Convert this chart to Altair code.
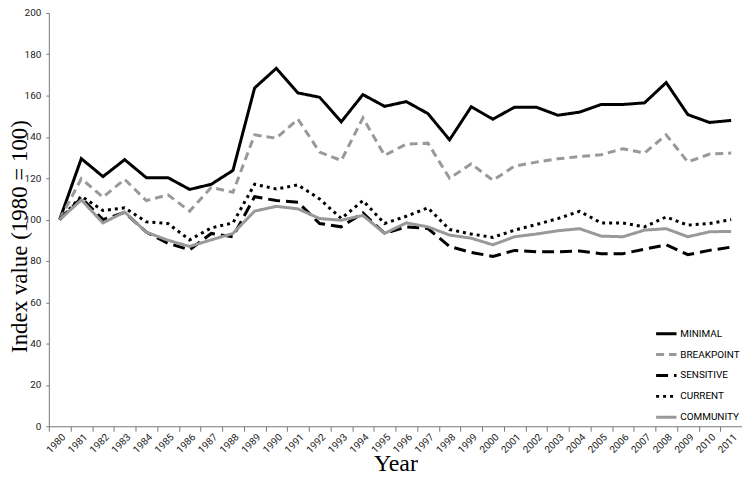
import altair as alt
import pandas as pd

years = list(range(1980, 2012))

series_names = ["MINIMAL", "BREAKPOINT", "SENSITIVE", "CURRENT", "COMMUNITY"]

minimal = [100, 129.5, 120.8, 129, 120.3, 120.3, 114.6, 117.1, 123.8, 163.7,
           173.2, 161.3, 159.2, 147.3, 160.5, 154.8, 157.1, 151.3, 138.6, 154.6,
           148.6, 154.4, 154.4, 150.5, 152, 155.7, 155.7, 156.5, 166.3, 150.8,
           147, 148]
breakpoint_ = [100, 119.8, 110.8, 119.5, 109.2, 112, 104.1, 115.6, 113.2, 141,
               139.4, 148.6, 132.7, 128.6, 149.2, 131.1, 136.5, 137, 120, 127,
               119, 125.9, 127.8, 129.4, 130.5, 131.4, 134.3, 132.2, 141, 127.9,
               131.7, 132.2]
sensitive = [100, 110.5, 100, 103.5, 94, 88.5, 85.4, 93.3, 91.7, 111.1,
             109.2, 108.4, 98.1, 96.5, 103.2, 93.3, 96.5, 95.7, 87, 84.1,
             82.2, 85.1, 84.4, 84.4, 84.8, 83.5, 83.5, 85.7, 87.8, 83,
             85.1, 86.7]
current = [100, 111.3, 104.4, 105.7, 98.9, 98.1, 90.2, 96, 98.4, 117.1,
           114.8, 116.8, 110, 100.5, 109.2, 98.1, 101.6, 105.7, 95.2, 93,
           91.4, 94.9, 97.6, 100.5, 104, 98.4, 98.4, 96.5, 101.3, 97.3,
           98.1, 100]
community = [100, 109.5, 98.4, 103.7, 93.9, 90, 87, 90.2, 93.3, 104.1,
             106.4, 105.2, 100.5, 99.7, 102, 93.3, 98.4, 96.5, 92.5, 91,
             87.8, 91.7, 93, 94.6, 95.6, 92, 91.7, 94.9, 95.6, 91.7,
             94.1, 94.3]

series_values = [minimal, breakpoint_, sensitive, current, community]
y_ticks = list(range(0, 201, 20))

rows = []
for name, vals in zip(series_names, series_values):
    for yr, v in zip(years, vals):
        rows.append({"Year": str(yr), "Value": v, "Series": name})
df = pd.DataFrame(rows)

colors = ["#000000", "#999999", "#000000", "#000000", "#999999"]
dashes = [[1, 0], [8, 5], [12, 6], [3, 4], [1, 0]]

label_font = "Liberation Sans Narrow, Roboto, sans-serif"
title_font = "Liberation Serif"

legend = alt.Legend(
    title=None, orient="none", legendX=608, legendY=310,
    symbolType="stroke", symbolSize=420, symbolStrokeWidth=3,
    labelFont=label_font, labelFontSize=10, labelColor="#000000",
    labelOffset=2, rowPadding=3, padding=0,
)

chart = alt.Chart(df).mark_line(strokeWidth=3, strokeCap="butt").encode(
    x=alt.X("Year:O", bandPosition=0.5,
            scale=alt.Scale(type="band", paddingInner=0, paddingOuter=0),
            axis=alt.Axis(title="Year", tickBand="extent", labelAngle=-45,
                          labelAlign="right", labelBaseline="middle",
                          labelOffset=4, labelPadding=4, tickSize=5,
                          labelFont=label_font, labelFontSize=10, labelColor="#222222",
                          domainColor="#777", tickColor="#777",
                          titleFont=title_font, titleFontSize=24,
                          titleFontWeight="normal", titleColor="#000",
                          titleBaseline="alphabetic", titleY=44)),
    y=alt.Y("Value:Q",
            scale=alt.Scale(domain=[0, 200], nice=False, zero=True),
            axis=alt.Axis(title="Index value (1980 = 100)", values=y_ticks,
                          grid=False, tickSize=3, labelPadding=5,
                          labelFont=label_font, labelFontSize=10, labelColor="#222222",
                          domainColor="#777", tickColor="#777",
                          titleFont=title_font, titleFontSize=23,
                          titleFontWeight="normal", titleColor="#000",
                          titleAngle=-90, titleBaseline="top",
                          titleAlign="center", titleX=-40, titleY=224)),
    color=alt.Color("Series:N", sort=series_names,
                    scale=alt.Scale(domain=series_names, range=colors),
                    legend=legend),
    strokeDash=alt.StrokeDash("Series:N", sort=series_names,
                              scale=alt.Scale(domain=series_names, range=dashes),
                              legend=legend),
).properties(
    width=696, height=415,
    autosize=alt.AutoSizeParams(type="none"),
    padding={"left": 41, "top": 4, "right": 0, "bottom": 52},
).configure_view(stroke=None)

chart.save("out.html", embed_options={"renderer": "svg", "actions": False})
